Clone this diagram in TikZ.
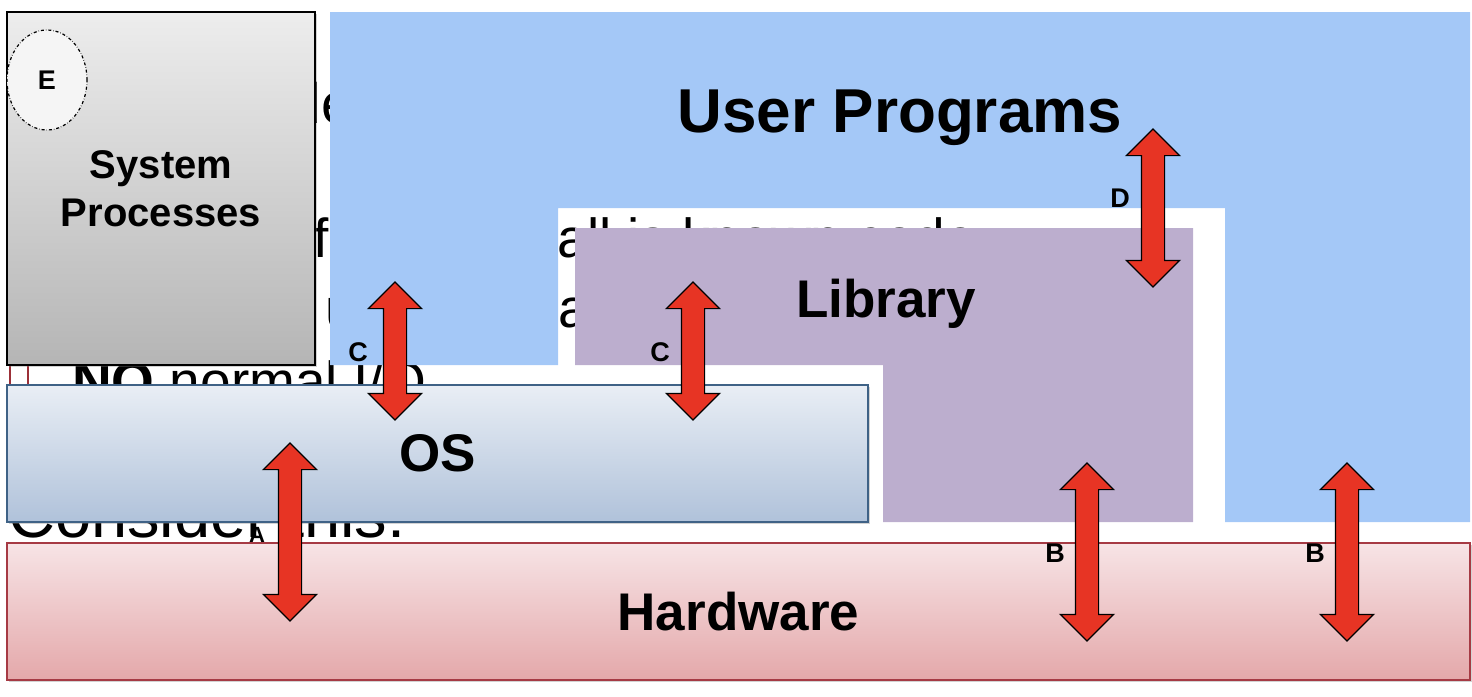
\documentclass[tikz,border=0pt]{standalone}
\usepackage{fontspec}
\setmainfont{Liberation Sans}
\usetikzlibrary{shapes.arrows,shapes.geometric,shadows}

\definecolor{userblue}{HTML}{A4C8F7}
\definecolor{libpurple}{HTML}{BCAECE}
\definecolor{arrowred}{HTML}{E73424}
\definecolor{osline}{HTML}{3F6286}
\definecolor{ostop}{HTML}{E9EEF5}
\definecolor{osbot}{HTML}{B0C2DA}
\definecolor{hwline}{HTML}{A63A44}
\definecolor{hwtop}{HTML}{F7E4E6}
\definecolor{hwbot}{HTML}{E4A8AA}
\definecolor{systop}{HTML}{EDEDED}
\definecolor{sysbot}{HTML}{B5B5B5}
\definecolor{bulletred}{HTML}{9C3038}

\begin{document}
\begin{tikzpicture}[x=1pt,y=-1pt,
  slide/.style={font=\fontsize{55}{55}\selectfont, inner sep=0pt},
  layer/.style={font=\bfseries\fontsize{53}{53}\selectfont, inner sep=0pt},
  box/.style={draw, line width=1.2pt, inner sep=0pt,
    drop shadow={shadow xshift=2pt, shadow yshift=-2pt, opacity=.35}},
  tag/.style={font=\bfseries\fontsize{27}{27}\selectfont, inner sep=0pt},
  updown/.style={double arrow, rotate=90, draw=black, line width=1.2pt,
    fill=arrowred, inner xsep=0pt, inner ysep=11pt,
    double arrow head extend=15pt, minimum width=52pt}]
\useasboundingbox (0,0) rectangle (1472,696);

% slide text underneath
\node[slide, anchor=base east, font=\fontsize{57}{57}\selectfont] (s1) at (353,123) {Bare mode};
\node[slide, anchor=base east] (s2a) at (329,257) {Size of};
\node[slide, anchor=base west] (s2b) at (557,257) {all is known code};
\node[slide, anchor=base west] (s3a) at (325,327) {user};
\node[slide, anchor=base west] (s3b) at (558,327) {and};
\draw[bulletred, line width=2pt] (10,362) rectangle (28,392);
\node[slide, anchor=base west] (s4) at (72,400) {{\bfseries NO} normal I/O};
\node[slide, anchor=base west, font=\fontsize{65}{65}\selectfont] (s5) at (8,537) {Consider this:};

% layers
\fill[userblue] (330,12) -- (1470,12) -- (1470,522) -- (1225,522) -- (1225,208)
  -- (558,208) -- (558,365) -- (330,365) -- cycle;
\fill[libpurple] (575,228) -- (1193,228) -- (1193,522) -- (883,522) -- (883,365)
  -- (575,365) -- cycle;
\node[layer, font=\bfseries\fontsize{62}{62}\selectfont] (user) at (900,118) {User Programs};
\node[layer] (lib) at (886,304) {Library};

\node[box, top color=systop, bottom color=sysbot, minimum width=308pt, minimum height=353pt,
  align=center, font=\bfseries\fontsize{40}{48}\selectfont] (sys) at (161,188.5) {System\\Processes};
\node[draw, ellipse, dash dot, line width=1.2pt, fill=white!96!black, minimum width=80pt,
  minimum height=100pt, tag] (e) at (47,80) {E};

\node[box, draw=osline, top color=ostop, bottom color=osbot, minimum width=861pt,
  minimum height=137pt, layer] (os) at (437.5,453.5) {\raisebox{-3pt}{OS}};
\node[box, draw=hwline, top color=hwtop, bottom color=hwbot, minimum width=1463pt,
  minimum height=137pt, layer] (hw) at (738.5,611.5) {Hardware};

% calls between layers
\node[updown, minimum height=138pt] (c1) at (395,351) {};
\node[updown, minimum height=138pt] (c2) at (693,351) {};
\node[updown, minimum height=158pt] (d) at (1153,208) {};
\node[updown, minimum height=178pt] (a) at (290,532) {};
\node[updown, minimum height=178pt] (b1) at (1087,552) {};
\node[updown, minimum height=178pt] (b2) at (1347,552) {};

\node[tag] (c1lbl) at (358,352) {C};
\node[tag] (c2lbl) at (660,352) {C};
\node[tag] (dlbl) at (1120,198) {D};
\node[tag, font=\bfseries\fontsize{22}{22}\selectfont] (albl) at (257,535) {A};
\node[tag] (b1lbl) at (1055,553) {B};
\node[tag] (b2lbl) at (1315,553) {B};
\end{tikzpicture}
\end{document}
